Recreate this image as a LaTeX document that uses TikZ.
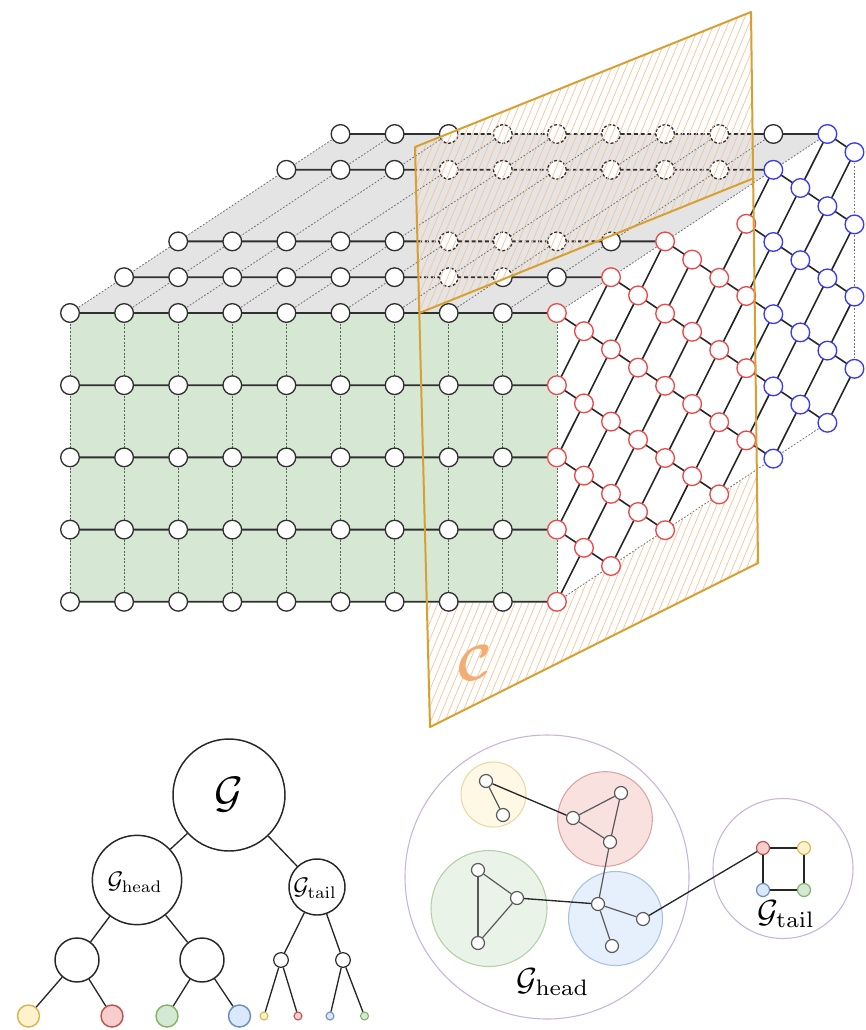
\documentclass[tikz,border=0pt]{standalone}
\usepackage{bm}
\pgfdeclarelayer{bg}
\pgfdeclarelayer{fg}
\pgfsetlayers{bg,main,fg}
\definecolor{gridk}{HTML}{303030}
\definecolor{nred}{HTML}{EA4A4A}
\definecolor{nblue}{HTML}{3A3AF2}
\definecolor{facegreen}{HTML}{D6E7D4}
\definecolor{facegrey}{HTML}{E4E4E4}
\definecolor{planec}{HTML}{D6A033}
\definecolor{hatchc}{HTML}{F6C59B}
\definecolor{labc}{HTML}{F2AE72}
\definecolor{dotg}{HTML}{707070}
\definecolor{dotgreen}{HTML}{4F6A4F}
\definecolor{ylf}{HTML}{FFF2CC}\definecolor{yld}{HTML}{D6B656}
\definecolor{rdf}{HTML}{F8CECC}\definecolor{rdd}{HTML}{B85450}
\definecolor{grf}{HTML}{D5E8D4}\definecolor{grd}{HTML}{82B366}
\definecolor{blf}{HTML}{DAE8FC}\definecolor{bld}{HTML}{6C8EBF}
\definecolor{cyf}{HTML}{FFF8E4}\definecolor{cyd}{HTML}{E9D9A3}
\definecolor{crf}{HTML}{F9E1E0}\definecolor{crd}{HTML}{DBA3A1}
\definecolor{cgf}{HTML}{EAF3E8}\definecolor{cgd}{HTML}{B3D0A7}
\definecolor{cbf}{HTML}{E6EFFC}\definecolor{cbd}{HTML}{A6C0E6}
\definecolor{purp}{HTML}{C9B3D8}
\begin{document}
\begin{tikzpicture}[x=0.75pt,y=-0.75pt,
  gnode/.style={circle,draw=gridk,fill=white,line width=1pt,minimum size=14pt,inner sep=0pt},
  rnode/.style={gnode,draw=nred},
  bnode/.style={gnode,draw=nblue},
  rowline/.style={draw=gridk,line width=1.4pt},
  faceline/.style={draw=black!85,line width=1.2pt},
  depthdot/.style={draw=dotg,line width=0.6pt,dash pattern=on 1.3pt off 1.3pt},
  frontdot/.style={draw=dotgreen,line width=0.6pt,dash pattern=on 1.5pt off 1.2pt},
  hatchline/.style={draw=hatchc,line width=0.55pt},
  planeline/.style={draw=planec,line width=1.5pt,line join=round},
  dashnode/.style={draw=gridk,fill=white,line width=1pt,dash pattern=on 2.2pt off 1.4pt},
  tnode/.style={circle,draw=black!85,fill=white,line width=1.1pt,inner sep=0pt},
  tedge/.style={draw=black!85,line width=1pt},
  cnode/.style={circle,draw=black!65,fill=white,line width=0.9pt,minimum size=9.75pt,inner sep=0pt},
  cedge/.style={draw=black!65,line width=0.9pt},
  xedge/.style={draw=black!85,line width=1pt},
  clus/.style={circle,line width=0.8pt,inner sep=0pt}
]
\useasboundingbox (0,0) rectangle (865,1030);

% ---------- grid nodes ----------
\foreach \d in {0,1,2,4,5}{
  \foreach \c in {0,...,8}{
    \node[gnode] (T-\c-\d) at ({70+54.1*(\c+\d)},{313-35.8*\d}) {};
  }
}
\foreach \r in {1,...,4}{
  \foreach \c in {0,...,8}{
    \node[gnode] (F-\c-\r) at ({70+54.1*\c},{313+72.2*\r}) {};
  }
}
\foreach \a in {0,...,11}{
  \foreach \b in {0,...,8}{
    \pgfmathtruncatemacro\pty{mod(\a+\b,2)}
    \ifnum\pty=0
      \ifnum\a\b=60 \else
        \pgfmathsetmacro\px{70+54.1*(9+\a/2)}
        \pgfmathsetmacro\py{313+36.1*\b-17.9*\a}
        \ifnum\a<8 \node[rnode] (R-\a-\b) at (\px,\py) {};\else\node[bnode] (R-\a-\b) at (\px,\py) {};\fi
      \fi
    \fi
  }
}

% plane corners
\coordinate (pA) at (415,147);
\coordinate (pB) at (751,12);
\coordinate (pC) at (758,563);
\coordinate (pD) at (430,727);
\coordinate (pE) at (419.3,313);
\coordinate (pF) at (754.3,178);
\coordinate (pG) at (426.8,602.8);
\coordinate (pH) at (756.9,470.5);

\begin{pgfonlayer}{bg}
  \fill[facegreen] (T-0-0.center) rectangle (R-0-8.center);
  \fill[facegrey] (T-0-0.center) -- (R-0-0.center) -- (R-10-0.center) -- (T-0-5.center) -- cycle;
  % lower hatched part of the cut plane
  \begin{scope}
    \clip (pD) -- (pG) -- (R-0-8.center) -- (pH) -- (pC) -- cycle;
    \foreach \k in {-400,-393,...,900} \draw[hatchline] (\k,800) -- ++(333,-800);
  \end{scope}
  % dotted depth lines of top face
  \foreach \c in {0,...,8} \draw[depthdot] (T-\c-0.center) -- (T-\c-5.center);
  \draw[depthdot] (R-0-0.center) -- (R-10-0.center);
  % dotted verticals of front face
  \foreach \c in {0,...,8} \draw[frontdot] (T-\c-0.center) -- (F-\c-4.center);
  \draw[frontdot] (R-0-0.center) -- (R-0-8.center);
  % dotted outline of right face
  \draw[depthdot] (R-0-8.center) -- (R-10-8.center);
  \draw[depthdot] (R-11-1.center) -- (R-11-7.center);
  % rows
  \foreach \d in {0,1,2,4,5}{
    \pgfmathtruncatemacro\a{2*\d}
    \draw[rowline] (T-0-\d.center) -- (R-\a-0.center);
  }
  \foreach \r in {1,...,4}{
    \pgfmathtruncatemacro\b{2*\r}
    \draw[rowline] (F-0-\r.center) -- (R-0-\b.center);
  }
  % right face chains
  \foreach \k/\s/\e in {-3/0/1,-2/0/3,-1/0/5,0/0/7,1/2/9,2/4/10,3/7/10,4/8/10,5/10/10}{
    \foreach \a in {\s,...,\e}{
      \pgfmathtruncatemacro\b{\a-2*\k}
      \pgfmathtruncatemacro\aa{\a+1}
      \pgfmathtruncatemacro\bb{\b+1}
      \draw[faceline] (R-\a-\b.center) -- (R-\aa-\bb.center);
    }
  }
  % right face long lines
  \foreach \m/\s/\e in {1/0/1,2/0/3,3/0/4,4/0/7,5/2/9,6/4/10,7/6/10,8/8/10,9/10/10}{
    \foreach \a in {\s,...,\e}{
      \pgfmathtruncatemacro\b{2*\m-\a}
      \pgfmathtruncatemacro\aa{\a+1}
      \pgfmathtruncatemacro\bb{\b-1}
      \draw[faceline] (R-\a-\b.center) -- (R-\aa-\bb.center);
    }
  }
\end{pgfonlayer}

\begin{pgfonlayer}{fg}
  \begin{scope}
    \clip (pA) -- (pB) -- (pF) -- (pE) -- cycle;
    \fill[white] (0,0) rectangle (865,400);
    \fill[facegrey] (T-0-0.center) -- (R-0-0.center) -- (R-10-0.center) -- (T-0-5.center) -- cycle;
    \foreach \c in {0,...,8} \draw[depthdot] (T-\c-0.center) -- (T-\c-5.center);
    \foreach \d in {1,2,4,5}{
      \pgfmathtruncatemacro\a{2*\d}
      \draw[rowline,dash pattern=on 3pt off 2pt] (T-0-\d.center) -- (R-\a-0.center);
    }
    \foreach \d in {1,2,4,5}{
      \foreach \c in {0,...,8}{
        \draw[dashnode] (T-\c-\d.center) circle[radius=7pt];
      }
    }
    \foreach \k in {-400,-393,...,900} \draw[hatchline] (\k,800) -- ++(333,-800);
  \end{scope}
  \draw[planeline] (pA) -- (pB) -- (pC) -- (pD) -- cycle;
  \draw[planeline] (pE) -- (pF);
\end{pgfonlayer}
\node[text=labc,scale=3.8] (clab) at (475,663) {$\bm{\mathcal{C}}$};

% ---------- tree ----------
\node[tnode,minimum size=84pt] (tg) at (229,795) {};
\node[tnode,minimum size=67pt] (th) at (137,880) {};
\node[tnode,minimum size=42pt] (tt) at (317,887) {};
\node[tnode,minimum size=33pt] (thl) at (77,960) {};
\node[tnode,minimum size=33pt] (thr) at (202,960) {};
\node[tnode,minimum size=11pt,line width=0.9pt] (ttl) at (281,960) {};
\node[tnode,minimum size=11pt,line width=0.9pt] (ttr) at (343,960) {};
\node[tnode,minimum size=16.5pt,fill=ylf,draw=yld] (l1) at (28.5,1016) {};
\node[tnode,minimum size=16.5pt,fill=rdf,draw=rdd] (l2) at (112,1016) {};
\node[tnode,minimum size=16.5pt,fill=grf,draw=grd] (l3) at (167,1016) {};
\node[tnode,minimum size=16.5pt,fill=blf,draw=bld] (l4) at (239.5,1016) {};
\node[tnode,minimum size=6pt,line width=0.8pt,fill=ylf,draw=yld] (s1) at (264,1016) {};
\node[tnode,minimum size=6pt,line width=0.8pt,fill=rdf,draw=rdd] (s2) at (298,1016) {};
\node[tnode,minimum size=6pt,line width=0.8pt,fill=blf,draw=bld] (s3) at (330,1016) {};
\node[tnode,minimum size=6pt,line width=0.8pt,fill=grf,draw=grd] (s4) at (364.5,1016) {};
\node[scale=3.3] (tgl) at (229,795) {$\mathcal{G}$};
\node[scale=1.8] (thlab) at (135,882) {$\mathcal{G}_{\mathrm{head}}$};
\node[scale=1.8] (ttlab) at (315,888) {$\mathcal{G}_{\mathrm{tail}}$};
\draw[tedge] (tg) -- (th);
\draw[tedge] (tg) -- (tt);
\draw[tedge] (th) -- (thl);
\draw[tedge] (th) -- (thr);
\draw[tedge] (thl) -- (l1);
\draw[tedge] (thl) -- (l2);
\draw[tedge] (thr) -- (l3);
\draw[tedge] (thr) -- (l4);
\draw[tedge] (tt) -- (ttl);
\draw[tedge] (tt) -- (ttr);
\draw[tedge] (ttl) -- (s1);
\draw[tedge] (ttl) -- (s2);
\draw[tedge] (ttr) -- (s3);
\draw[tedge] (ttr) -- (s4);

% ---------- cluster graph ----------
\node[clus,draw=purp,minimum size=213pt] (hd) at (547,877) {};
\node[clus,draw=purp,minimum size=105pt] (tl) at (783,868.5) {};
\node[clus,draw=cyd,fill=cyf,minimum size=48.75pt] (cy) at (493.5,794.5) {};
\node[clus,draw=crd,fill=crf,minimum size=71pt] (cr) at (605,819) {};
\node[clus,draw=cgd,fill=cgf,minimum size=87pt] (cg) at (489,908.5) {};
\node[clus,draw=cbd,fill=cbf,minimum size=70.5pt] (cb) at (615.5,918.5) {};
\node[cnode] (y1) at (486,781) {};
\node[cnode] (y2) at (503,815) {};
\node[cnode] (r1) at (621,793) {};
\node[cnode] (r2) at (573,818) {};
\node[cnode] (r3) at (610,842) {};
\node[cnode] (g1) at (478,870) {};
\node[cnode] (g2) at (517,898) {};
\node[cnode] (g3) at (478,943) {};
\node[cnode] (b1) at (598,904) {};
\node[cnode] (b2) at (643,919) {};
\node[cnode] (b3) at (612,946) {};
\node[cnode,fill=rdf,draw=rdd] (qr) at (763,848) {};
\node[cnode,fill=ylf,draw=yld] (qy) at (804,848) {};
\node[cnode,fill=blf,draw=bld] (qb) at (763,890) {};
\node[cnode,fill=grf,draw=grd] (qg) at (804,890) {};
\draw[cedge] (y1) -- (y2);
\draw[xedge] (y1) -- (r2);
\draw[cedge] (r2) -- (r1);
\draw[cedge] (r1) -- (r3);
\draw[cedge] (r2) -- (r3);
\draw[cedge] (r3) -- (b1);
\draw[cedge] (g1) -- (g2);
\draw[cedge] (g2) -- (g3);
\draw[cedge] (g1) -- (g3);
\draw[xedge] (g2) -- (b1);
\draw[cedge] (b1) -- (b2);
\draw[cedge] (b1) -- (b3);
\draw[xedge] (b2) -- (qr);
\draw[xedge] (qr) -- (qy);
\draw[xedge] (qy) -- (qg);
\draw[xedge] (qg) -- (qb);
\draw[xedge] (qb) -- (qr);
\node[scale=2.4] (hdlab) at (553,982) {$\mathcal{G}_{\mathrm{head}}$};
\node[scale=2.4] (tllab) at (786,914) {$\mathcal{G}_{\mathrm{tail}}$};
\end{tikzpicture}
\end{document}
